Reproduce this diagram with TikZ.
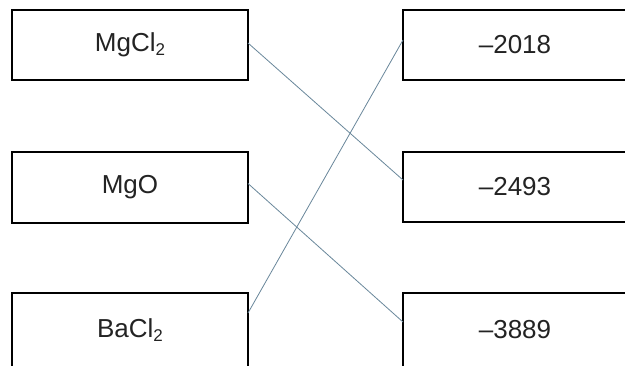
\documentclass[tikz,border=0pt]{standalone}
\usepackage{fontspec}
\setmainfont{Liberation Sans}
\newcommand{\chemsub}[1]{\raisebox{-0.28ex}{\fontsize{17}{17}\selectfont #1}}
\definecolor{linkcol}{RGB}{105,135,155}
\definecolor{txtcol}{RGB}{35,35,35}
\begin{document}
\begin{tikzpicture}[x=1pt,y=-1pt,
  box/.style={draw=black,line width=1.2pt,rectangle,inner sep=0pt,outer sep=0pt,
    minimum width=236pt,font=\fontsize{26}{26}\selectfont,text=txtcol},
  rbox/.style={box,minimum width=224pt},
  link/.style={draw=linkcol,line width=0.8pt}]
\useasboundingbox (0,0) rectangle (625,365);
\clip (0,0) rectangle (625,365);
\fill[white] (0,0) rectangle (625,365);
\node[box,minimum height=70pt] (L1) at (130,45) {MgCl\chemsub{2}};
\node[box,minimum height=71pt] (L2) at (130,187.5) {MgO};
\node[box,minimum height=74pt] (L3) at (130,330) {BaCl\chemsub{2}};
\node[rbox,minimum height=70pt] (R1) at (515,45) {–2018};
\node[rbox,minimum height=70pt] (R2) at (515,187) {–2493};
\node[rbox,minimum height=74pt] (R3) at (515,330) {–3889};
\draw[link] ([yshift=2pt]L1.east) -- ([yshift=7pt]R2.west);
\draw[link] ([yshift=4pt]L2.east) -- ([yshift=8pt]R3.west);
\draw[link] ([yshift=17pt]L3.east) -- ([yshift=5pt]R1.west);
\end{tikzpicture}
\end{document}
